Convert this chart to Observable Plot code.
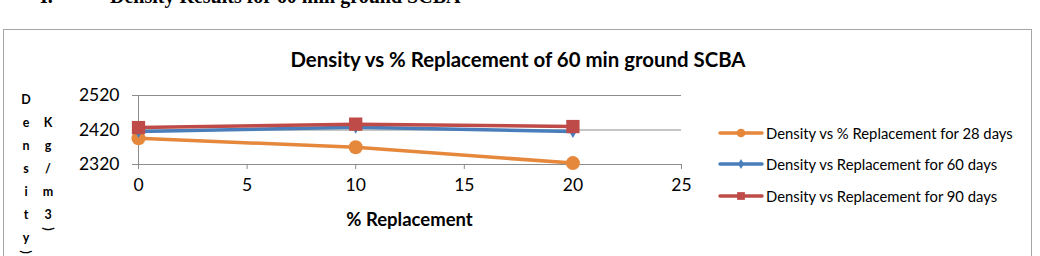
<!DOCTYPE html>
<html>
<head>
<meta charset="utf-8">
<script src="https://cdn.jsdelivr.net/npm/d3@7"></script>
<script src="https://cdn.jsdelivr.net/npm/@observablehq/plot@0.6"></script>
<style>
  html, body { margin: 0; padding: 0; background: #fff; }
  #wrap { position: relative; width: 1040px; height: 256px; overflow: hidden; font-family: Lato, "Open Sans", sans-serif; }
  .heading { position: absolute; top: -15px; font-family: "Liberation Serif", "Times New Roman", serif; font-weight: bold; font-size: 20px; white-space: pre; }
  #frame { position: absolute; left: 3px; top: 29px; width: 1029px; height: 260px; border: 1.5px solid #a6a6a6; box-sizing: border-box; }
  #title { position: absolute; left: 0; width: 1036px; top: 47px; text-align: center; font-weight: bold; font-size: 20.4px; }
  #xlabel { position: absolute; left: 138px; width: 543px; top: 208px; text-align: center; font-weight: bold; font-size: 18.5px; }
  .ycol { position: absolute; top: 90px; width: 20px; text-align: center; font-weight: bold; font-size: 12.5px; }
  .ycol div { height: 23px; line-height: 20px; }
  .rot1 { display: inline-block; transform: rotate(-90deg); }
  .rot2 { display: inline-block; transform: rotate(90deg); }
  #legend { position: absolute; left: 718px; top: 117px; font-size: 14.8px; }
  .lrow { height: 31.5px; display: flex; align-items: center; }
  .lrow svg { margin-right: 2px; }
  svg.plot { position: absolute; left: 0; top: 0; }
</style>
</head>
<body>
<div id="wrap">
  <div class="heading" style="left:40px">I.</div>
  <div class="heading" style="left:110px">Density Results for 60 min ground SCBA</div>
  <div id="frame"></div>
  <div id="title">Density vs % Replacement of 60 min ground SCBA</div>
  <div id="xlabel">% Replacement</div>
  <div class="ycol" style="left:16px"><div>D</div><div>e</div><div>n</div><div>s</div><div>i</div><div>t</div><div>y</div><div style="margin-top:-9px"><span class="rot1">(</span></div></div>
  <div class="ycol" style="left:38px; top:113px"><div>K</div><div>g</div><div>/</div><div>m</div><div>3</div><div style="margin-top:-9px"><span class="rot2">)</span></div></div>
  <div id="legend"></div>
</div>
<script>
const replacement = [0, 10, 20];
const seriesNames = [
  "Density vs % Replacement for 28 days",
  "Density vs Replacement for 60 days",
  "Density vs Replacement for 90 days"
];
const density28 = [2396, 2370, 2324];
const density60 = [2416, 2428, 2416];
const density90 = [2427, 2437, 2430];
const xTicks = [0, 5, 10, 15, 20, 25];
const yTicks = [2320, 2420, 2520];

const colors = ["#E5883C", "#4A7EBB", "#BE4B48"];
const symbols = ["circle", "diamond", "square"];
const radii = [7, 4, 7.5];

const seriesValues = [density28, density60, density90];
const data = [];
seriesValues.forEach((vals, i) => vals.forEach((v, j) => data.push({series: seriesNames[i], x: replacement[j], y: v})));

const marks = [
  Plot.ruleY([2420, 2520], {stroke: "#8c8c8c", strokeWidth: 1}),
  Plot.ruleY([2320], {stroke: "#8c8c8c", strokeWidth: 1}),
  Plot.ruleX([0], {y1: 2320, y2: 2520, stroke: "#8c8c8c", strokeWidth: 1}),
  Plot.axisX({ticks: xTicks, tickSize: 5, tickPadding: 9, stroke: "#8c8c8c", fill: "#000", fontSize: 17.5, label: null, tickFormat: d => String(d)}),
  Plot.axisY({ticks: yTicks, tickSize: 6, tickPadding: 13, stroke: "#8c8c8c", fill: "#000", fontSize: 17.5, label: null, tickFormat: d => String(d)})
];
seriesNames.forEach((name, i) => {
  const d = data.filter(r => r.series === name);
  marks.push(Plot.line(d, {x: "x", y: "y", stroke: colors[i], strokeWidth: 3.5}));
  marks.push(Plot.dot(d, {x: "x", y: "y", fill: colors[i], stroke: "none", symbol: symbols[i], r: radii[i]}));
});

const chart = Plot.plot({
  width: 1040,
  height: 256,
  marginLeft: 138,
  marginRight: 359,
  marginTop: 95,
  marginBottom: 92,
  style: {fontFamily: "Lato, 'Open Sans', sans-serif", background: "transparent", overflow: "visible"},
  x: {domain: [0, 25]},
  y: {domain: [2320, 2520]},
  marks
});
document.getElementById("wrap").appendChild(chart);

const legend = document.getElementById("legend");
seriesNames.forEach((name, i) => {
  const row = document.createElement("div");
  row.className = "lrow";
  const sym = d3.symbol(i === 0 ? d3.symbolCircle : i === 1 ? d3.symbolDiamond : d3.symbolSquare, i === 1 ? 30 : 60)();
  row.innerHTML = `<svg width="46" height="16"><line x1="2" x2="44" y1="8" y2="8" stroke="${colors[i]}" stroke-width="3.5" stroke-linecap="round"/><path d="${sym}" transform="translate(23,8)" fill="${colors[i]}"/></svg><span>${name}</span>`;
  legend.appendChild(row);
});
</script>
</body>
</html>
